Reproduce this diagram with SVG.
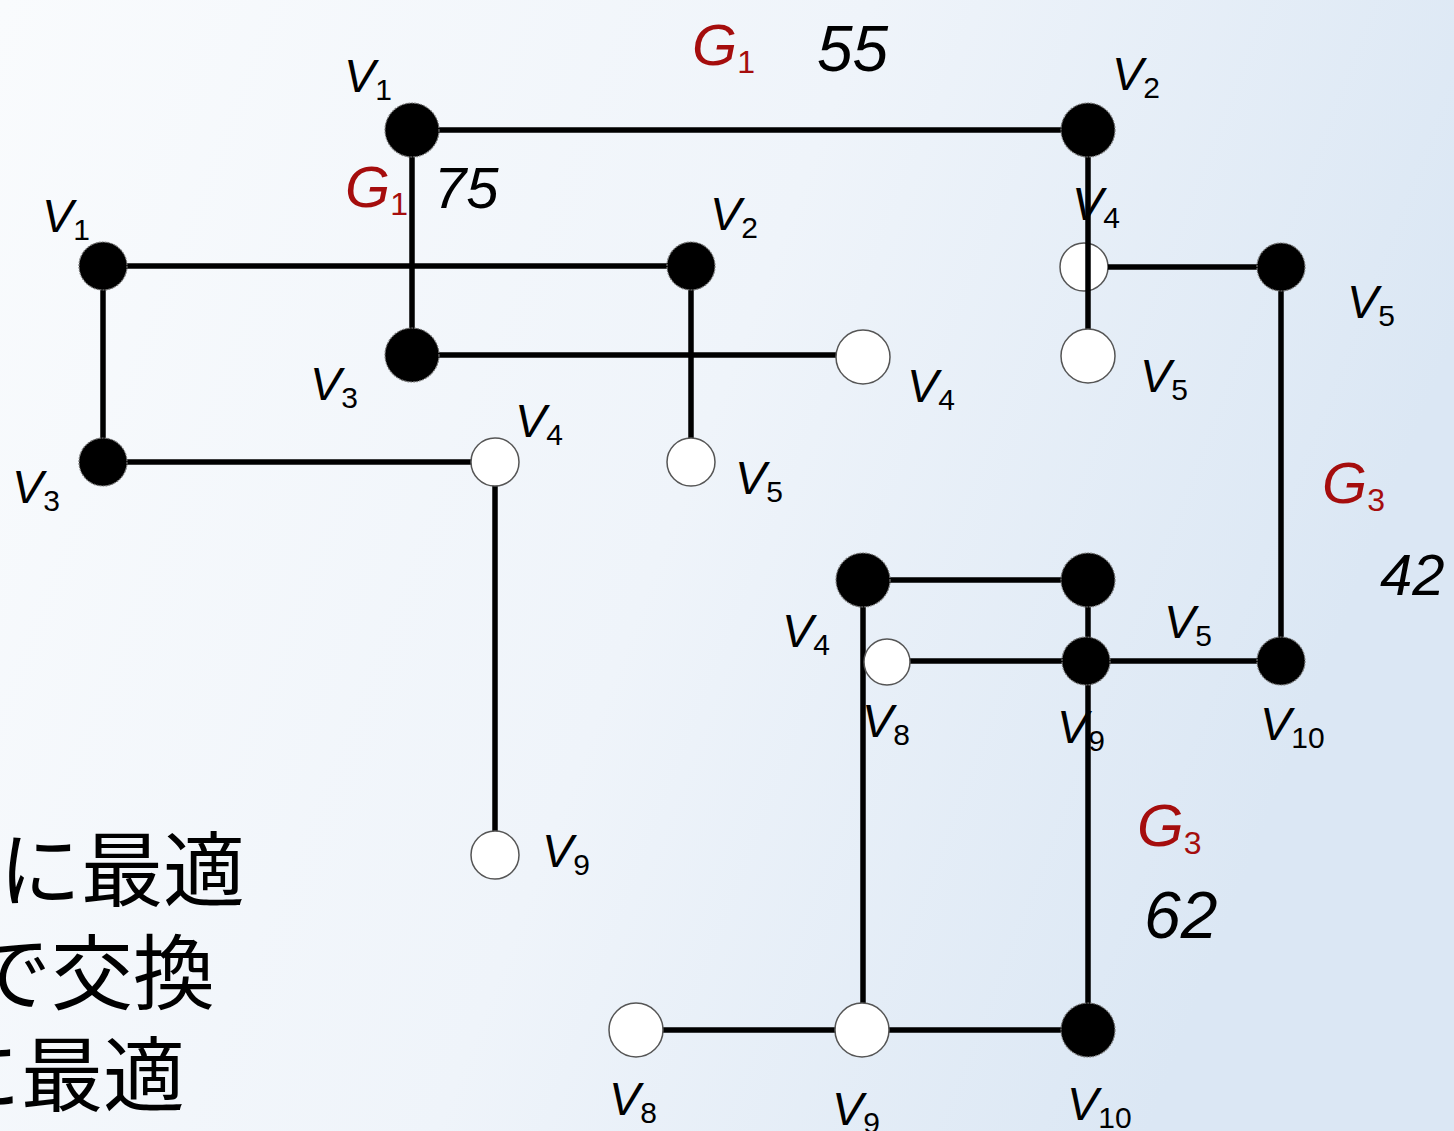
<svg xmlns="http://www.w3.org/2000/svg" width="1454" height="1131" viewBox="0 0 1454 1131">
<defs>
<linearGradient id="bg" x1="0" y1="0" x2="1" y2="0.3">
<stop offset="0" stop-color="#f9fbfd"/>
<stop offset="0.55" stop-color="#eff4fa"/>
<stop offset="1" stop-color="#dbe7f4"/>
</linearGradient>
<style>
.e{stroke:#000;stroke-width:5.5;fill:none}
.b{fill:#000;stroke:#777;stroke-width:1.2;stroke-dasharray:2 1}
.w{fill:#fff;stroke:#555;stroke-width:1.5}
.v{font-family:"Liberation Sans",Arial,sans-serif;font-style:italic;font-size:47px;fill:#000}
.s{font-style:normal;font-size:30px}
.g{font-family:"Liberation Sans",Arial,sans-serif;font-style:italic;font-size:58px;fill:#a50d0d}
.gs{font-style:normal;font-size:32px}
.n{font-family:"Liberation Sans",Arial,sans-serif;font-style:italic;font-size:58px;fill:#000}
.jp{font-family:"Noto Sans CJK JP",sans-serif;font-size:82px;fill:#000}
</style>
</defs>
<rect width="1454" height="1131" fill="url(#bg)"/>
<g id="text-jp">
<text class="jp" x="-1" y="900">に最適</text>
<text class="jp" x="-31" y="1003">で交換</text>
<text class="jp" x="-61" y="1105">に最適</text>
</g>
<g id="n-a-v4"><circle class="w" cx="1084" cy="267" r="24"/></g>
<g id="connectors">
<line class="e" x1="412" y1="130" x2="1088" y2="130"/>
<line class="e" x1="412" y1="130" x2="412" y2="355"/>
<line class="e" x1="412" y1="355" x2="863" y2="355"/>
<line class="e" x1="1088" y1="130" x2="1088" y2="356"/>
<line class="e" x1="1108" y1="267" x2="1281" y2="267"/>
<line class="e" x1="1281" y1="267" x2="1281" y2="661"/>
<line class="e" x1="1281" y1="661" x2="887" y2="661"/>
<line class="e" x1="1088" y1="580" x2="863" y2="580"/>
<line class="e" x1="1088" y1="580" x2="1088" y2="1030"/>
<line class="e" x1="863" y1="580" x2="863" y2="1030"/>
<line class="e" x1="636" y1="1030" x2="1088" y2="1030"/>
<line class="e" x1="103" y1="266" x2="691" y2="266"/>
<line class="e" x1="103" y1="266" x2="103" y2="462"/>
<line class="e" x1="103" y1="462" x2="495" y2="462"/>
<line class="e" x1="495" y1="462" x2="495" y2="855"/>
<line class="e" x1="691" y1="266" x2="691" y2="462"/>
</g>
<g id="n-a-v1"><circle class="b" cx="412" cy="130" r="27"/></g>
<g id="n-a-v2"><circle class="b" cx="1088" cy="130" r="27"/></g>
<g id="n-a-v3"><circle class="b" cx="412" cy="355" r="27"/></g>
<g id="n-a-v4b"><circle class="w" cx="863" cy="357" r="27"/></g>
<g id="n-a-v5"><circle class="w" cx="1088" cy="356" r="27"/></g>
<g id="n-b-v5"><circle class="b" cx="1281" cy="267" r="24"/></g>
<g id="n-b-v10"><circle class="b" cx="1281" cy="661" r="24"/></g>
<g id="n-b-v9"><circle class="b" cx="1086" cy="661" r="24"/></g>
<g id="n-b-v8"><circle class="w" cx="887" cy="662" r="23"/></g>
<g id="n-c-v4"><circle class="b" cx="863" cy="580" r="27"/></g>
<g id="n-c-top"><circle class="b" cx="1088" cy="580" r="27"/></g>
<g id="n-c-v8"><circle class="w" cx="636" cy="1030" r="27"/></g>
<g id="n-c-v9"><circle class="w" cx="862" cy="1030" r="27"/></g>
<g id="n-c-v10"><circle class="b" cx="1088" cy="1030" r="27"/></g>
<g id="n-d-v1"><circle class="b" cx="103" cy="266" r="24"/></g>
<g id="n-d-v2"><circle class="b" cx="691" cy="266" r="24"/></g>
<g id="n-d-v3"><circle class="b" cx="103" cy="462" r="24"/></g>
<g id="n-d-v4"><circle class="w" cx="495" cy="462" r="24"/></g>
<g id="n-d-v5"><circle class="w" cx="691" cy="462" r="24"/></g>
<g id="n-d-v9"><circle class="w" cx="495" cy="855" r="24"/></g>
<g id="labels" transform="translate(-3,0)">
<text class="v" x="347" y="92">V<tspan class="s" dy="8">1</tspan></text>
<text class="v" x="1115" y="90">V<tspan class="s" dy="8">2</tspan></text>
<text class="v" x="45" y="232">V<tspan class="s" dy="8">1</tspan></text>
<text class="v" x="713" y="230">V<tspan class="s" dy="8">2</tspan></text>
<text class="v" x="1075" y="220">V<tspan class="s" dy="8">4</tspan></text>
<text class="v" x="1350" y="318">V<tspan class="s" dy="8">5</tspan></text>
<text class="v" x="313" y="400">V<tspan class="s" dy="8">3</tspan></text>
<text class="v" x="910" y="402">V<tspan class="s" dy="8">4</tspan></text>
<text class="v" x="1143" y="392">V<tspan class="s" dy="8">5</tspan></text>
<text class="v" x="518" y="437">V<tspan class="s" dy="8">4</tspan></text>
<text class="v" x="738" y="494">V<tspan class="s" dy="8">5</tspan></text>
<text class="v" x="15" y="503">V<tspan class="s" dy="8">3</tspan></text>
<text class="v" x="785" y="647">V<tspan class="s" dy="8">4</tspan></text>
<text class="v" x="1167" y="638">V<tspan class="s" dy="8">5</tspan></text>
<text class="v" x="865" y="737">V<tspan class="s" dy="8">8</tspan></text>
<text class="v" x="1060" y="743">V<tspan class="s" dy="8">9</tspan></text>
<text class="v" x="1263" y="740">V<tspan class="s" dy="8">10</tspan></text>
<text class="v" x="545" y="867">V<tspan class="s" dy="8">9</tspan></text>
<text class="v" x="612" y="1115">V<tspan class="s" dy="8">8</tspan></text>
<text class="v" x="835" y="1125">V<tspan class="s" dy="8">9</tspan></text>
<text class="v" x="1070" y="1120">V<tspan class="s" dy="8">10</tspan></text>
<text class="g" x="695" y="65">G<tspan class="gs" dy="8">1</tspan></text>
<text class="n" x="820" y="71" style="font-size:64px">55</text>
<text class="g" x="348" y="207">G<tspan class="gs" dy="8">1</tspan></text>
<text class="n" x="437" y="208">75</text>
<text class="g" x="1325" y="503">G<tspan class="gs" dy="8">3</tspan></text>
<text class="n" x="1383" y="595">42</text>
<text class="g" x="1140" y="846" style="font-size:60px">G<tspan class="gs" dy="8">3</tspan></text>
<text class="n" x="1147" y="938" style="font-size:66px">62</text>
</g>
</svg>
